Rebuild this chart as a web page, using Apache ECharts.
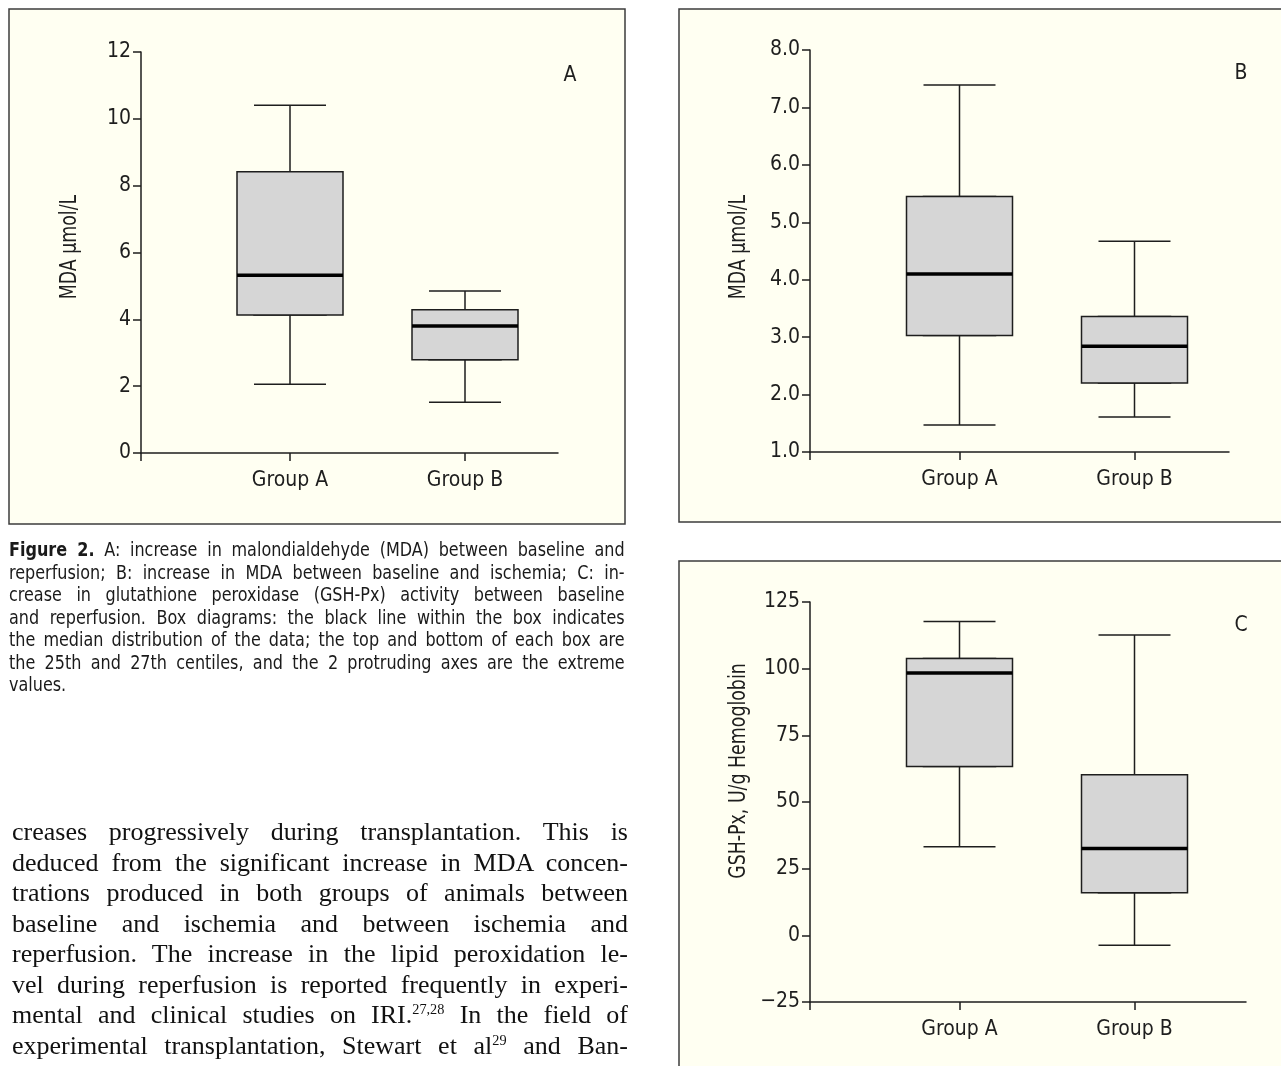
<!DOCTYPE html>
<html>
<head>
<meta charset="utf-8">
<script src="https://cdn.jsdelivr.net/npm/echarts@6/dist/echarts.min.js"></script>
<style>
  html, body { margin: 0; padding: 0; background: #fff; }
  #main { position: absolute; left: 0; top: 0; width: 1281px; height: 1066px; }
  .caption { position: absolute; left: 9px; top: 539px; width: 684px; z-index: 2;
    transform: scaleX(0.9); transform-origin: 0 0;
    font-family: 'Liberation Sans Narrow', 'DejaVu Sans Condensed', sans-serif; font-size: 19.8px; line-height: 22.5px; color: #1a1a1a; }
  .body { position: absolute; left: 12px; top: 817px; width: 616px; z-index: 2;
    font-family: 'Liberation Serif', 'Times New Roman', serif; font-size: 26px; line-height: 30.5px; color: #111; }
  .jl { text-align: justify; text-align-last: justify; height: 22.5px; }
  .body .jl { height: 30.5px; }
  .ll { text-align: left; }
  sup { font-size: 0.55em; vertical-align: 0.65em; line-height: 0; }
</style>
</head>
<body>
<div id="main"></div>
<div class="caption">
  <div class="jl"><b>Figure 2.</b> A: increase in malondialdehyde (MDA) between baseline and</div>
  <div class="jl">reperfusion; B: increase in MDA between baseline and ischemia; C: in-</div>
  <div class="jl">crease in glutathione peroxidase (GSH-Px) activity between baseline</div>
  <div class="jl">and reperfusion. Box diagrams: the black line within the box indicates</div>
  <div class="jl">the median distribution of the data; the top and bottom of each box are</div>
  <div class="jl">the 25th and 27th centiles, and the 2 protruding axes are the extreme</div>
  <div class="ll">values.</div>
</div>
<div class="body">
  <div class="jl">creases progressively during transplantation. This is</div>
  <div class="jl">deduced from the significant increase in MDA concen-</div>
  <div class="jl">trations produced in both groups of animals between</div>
  <div class="jl">baseline and ischemia and between ischemia and</div>
  <div class="jl">reperfusion. The increase in the lipid peroxidation le-</div>
  <div class="jl">vel during reperfusion is reported frequently in experi-</div>
  <div class="jl">mental and clinical studies on IRI.<sup>27,28</sup> In the field of</div>
  <div class="jl">experimental transplantation, Stewart et al<sup>29</sup> and Ban-</div>
</div>
<script>
var groups = ['Group A', 'Group B'];

// each box: [min, Q1, median, Q3, max]
var mdaReperfusion = [[2.06, 4.13, 5.32, 8.42, 10.41], [1.52, 2.79, 3.80, 4.29, 4.85]];
var mdaIschemia = [[1.47, 3.03, 4.10, 5.45, 7.39], [1.61, 2.20, 2.84, 3.36, 4.67]];
var gshPx = [[33.2, 63.3, 98.4, 103.8, 117.7], [-3.7, 16.0, 32.6, 60.2, 112.6]];

// axis ranges: [min, max, interval]
var rangeA = [0, 12, 2];
var rangeB = [1, 8, 1];
var rangeC = [-25, 125, 25];

var yTitles = ['MDA \u00b5mol/L', 'MDA \u00b5mol/L', 'GSH-Px, U/g Hemoglobin'];
var letters = ['A', 'B', 'C'];

var FONT = "'Liberation Sans Narrow', 'DejaVu Sans Condensed', sans-serif";
var INK = '#1e1e1e';

var panels = [
  { data: mdaReperfusion, range: rangeA, dec: 0, frame: [9, 9, 616, 515],
    axisX: 141, top: 52, bottom: 453, endX: 558, centerA: 290, titleXY: [70, 247], letterXY: [570, 76] },
  { data: mdaIschemia, range: rangeB, dec: 1, frame: [679, 9, 700, 513],
    axisX: 810, top: 50, bottom: 452, endX: 1229, centerA: 959.5, titleXY: [739, 247], letterXY: [1241, 74] },
  { data: gshPx, range: rangeC, dec: 0, frame: [679, 561, 700, 600],
    axisX: 810, top: 602, bottom: 1002, endX: 1246, centerA: 959.5, titleXY: [739, 771], letterXY: [1241, 626] }
];

var grids = [], xAxes = [], yAxes = [], series = [], graphics = [];

panels.forEach(function (p, k) {
  var f = p.frame;
  graphics.push({ type: 'rect', z: -10, silent: true,
    shape: { x: f[0], y: f[1], width: f[2], height: f[3] },
    style: { fill: '#fffff2', stroke: '#3c3c3c', lineWidth: 1.5 } });
  graphics.push({ type: 'text', silent: true, x: p.titleXY[0], y: p.titleXY[1],
    rotation: Math.PI / 2, scaleX: 0.84,
    style: { text: yTitles[k], font: '23px ' + FONT, fill: INK, textAlign: 'center', textVerticalAlign: 'middle' } });
  graphics.push({ type: 'text', silent: true, x: p.letterXY[0], y: p.letterXY[1],
    style: { text: letters[k], font: '21px ' + FONT, fill: INK, textAlign: 'center', textVerticalAlign: 'middle' } });

  var h = p.bottom - p.top;
  var r = p.range;
  var lineStyle = { color: INK, width: 1.5 };

  // frame axes (axis lines, y ticks and labels)
  var g0 = grids.length;
  grids.push({ left: p.axisX, top: p.top, width: p.endX - p.axisX, height: h });
  xAxes.push({ type: 'value', gridIndex: g0, min: 0, max: 1,
    axisLine: { show: true, onZero: false, lineStyle: lineStyle },
    axisTick: { show: true, customValues: [0], length: 8, lineStyle: lineStyle },
    axisLabel: { show: false }, splitLine: { show: false } });
  yAxes.push({ type: 'value', gridIndex: g0, min: r[0], max: r[1], interval: r[2],
    axisLine: { show: true, onZero: false, lineStyle: lineStyle },
    axisTick: { show: true, length: 8, lineStyle: lineStyle },
    axisLabel: { margin: 10, fontSize: 21, fontFamily: FONT, color: INK,
      formatter: function (v) { return v < 0 ? '\u2212' + Math.abs(v).toFixed(p.dec) : v.toFixed(p.dec); } },
    splitLine: { show: false } });

  // box grid (category positions); bottom axis for boxes, hidden top axis for whiskers
  var g1 = grids.length;
  grids.push({ left: p.centerA - 87.5, top: p.top, width: 350, height: h });
  var xBox = xAxes.length;
  xAxes.push({ type: 'category', gridIndex: g1, data: groups, boundaryGap: true, position: 'bottom',
    axisLine: { show: false, onZero: false },
    axisTick: { show: true, alignWithLabel: true, length: 8, lineStyle: lineStyle },
    axisLabel: { margin: 17, fontSize: 21, fontFamily: FONT, color: INK } });
  var xWhisk = xAxes.length;
  xAxes.push({ type: 'category', gridIndex: g1, data: groups, boundaryGap: true, position: 'top', show: false });
  var yBox = yAxes.length;
  yAxes.push({ type: 'value', gridIndex: g1, min: r[0], max: r[1], show: false });

  var boxStyle = { color: '#d6d6d6', borderColor: INK, borderWidth: 1.5 };
  // whiskers with short caps
  series.push({ type: 'boxplot', xAxisIndex: xWhisk, yAxisIndex: yBox, silent: true,
    boxWidth: [72, 72], itemStyle: boxStyle, data: p.data });
  // boxes (Q1..Q3)
  series.push({ type: 'boxplot', xAxisIndex: xBox, yAxisIndex: yBox, silent: true,
    boxWidth: [106, 106], itemStyle: boxStyle,
    data: p.data.map(function (d) { return [d[1], d[1], d[2], d[3], d[3]]; }) });
  // thick median line
  series.push({ type: 'scatter', xAxisIndex: xBox, yAxisIndex: yBox, silent: true, z: 5,
    symbol: 'rect', symbolSize: [106, 3.5], itemStyle: { color: '#000', opacity: 1 },
    data: p.data.map(function (d, i) { return [i, d[2]]; }) });
});

var myChart = echarts.init(document.getElementById('main'));
var option = {
  animation: false,
  grid: grids,
  xAxis: xAxes,
  yAxis: yAxes,
  graphic: graphics,
  series: series
};
myChart.setOption(option);
</script>
</body>
</html>
